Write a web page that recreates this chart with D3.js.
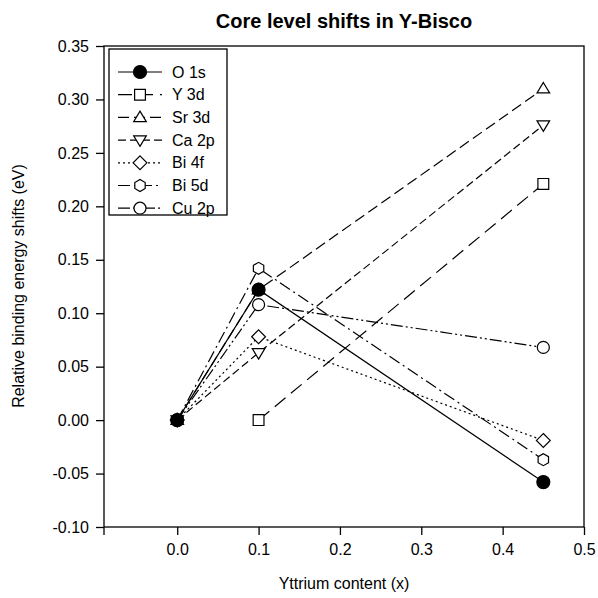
<!DOCTYPE html>
<html><head><meta charset="utf-8">
<script src="https://cdn.jsdelivr.net/npm/d3@7"></script>
<style>body{margin:0;background:#fff}svg{display:block}text{font-family:"Liberation Sans",Arial,sans-serif;fill:#000}</style>
</head><body><svg id="c" width="598" height="598"></svg>
<script>
const seriesNames = ["O 1s","Y 3d","Sr 3d","Ca 2p","Bi 4f","Bi 5d","Cu 2p"];
const xO1s = [0, 0.1, 0.45], yO1s = [0, 0.122, -0.058];
const xY3d = [0.1, 0.45], yY3d = [0, 0.221];
const xSr3d = [0, 0.1, 0.45], ySr3d = [0, 0.122, 0.31];
const xCa2p = [0, 0.1, 0.45], yCa2p = [0, 0.063, 0.276];
const xBi4f = [0, 0.1, 0.45], yBi4f = [0, 0.078, -0.019];
const xBi5d = [0, 0.1, 0.45], yBi5d = [0, 0.142, -0.037];
const xCu2p = [0, 0.1, 0.45], yCu2p = [0, 0.108, 0.068];
const xTicks = [0.0, 0.1, 0.2, 0.3, 0.4, 0.5];
const yTicks = [-0.10, -0.05, 0.00, 0.05, 0.10, 0.15, 0.20, 0.25, 0.30, 0.35];

const styles = [
  {dash:null, sym:"circle", fill:"#000", r:6.5},
  {dash:"14,7", sym:"square", fill:"#fff", r:6},
  {dash:"11,5", sym:"triangle", fill:"#fff", r:6},
  {dash:"8,4", sym:"triangleDown", fill:"#fff", r:6},
  {dash:"2,3", sym:"diamond", fill:"#fff", r:6},
  {dash:"12,4,2,4", sym:"hexagon", fill:"#fff", r:6},
  {dash:"12,3,2,3,2,3", sym:"circle", fill:"#fff", r:6}
];
const data = [[xO1s,yO1s],[xY3d,yY3d],[xSr3d,ySr3d],[xCa2p,yCa2p],[xBi4f,yBi4f],[xBi5d,yBi5d],[xCu2p,yCu2p]];

const svg = d3.select("#c");
const L=104, R=584, T=46, B=527;
const x = d3.scaleLinear().domain([-0.09, 0.5]).range([L, R]);
const y = d3.scaleLinear().domain([-0.10, 0.35]).range([B, T]);
const FS = "16px";

function symPath(sym, r){
  const p = d3.path();
  if(sym==="circle"){ p.arc(0,0,r,0,2*Math.PI); p.closePath(); }
  else if(sym==="square"){ p.rect(-r*0.9,-r*0.9,r*1.8,r*1.8); }
  else if(sym==="triangle"){ p.moveTo(0,-r*1.05); p.lineTo(r*1.05,r*0.7); p.lineTo(-r*1.05,r*0.7); p.closePath(); }
  else if(sym==="triangleDown"){ p.moveTo(0,r*1.05); p.lineTo(r*1.05,-r*0.7); p.lineTo(-r*1.05,-r*0.7); p.closePath(); }
  else if(sym==="diamond"){ p.moveTo(0,-r*1.15); p.lineTo(r*1.15,0); p.lineTo(0,r*1.15); p.lineTo(-r*1.15,0); p.closePath(); }
  else if(sym==="hexagon"){ for(let i=0;i<6;i++){ const a=Math.PI/6+i*Math.PI/3; const px=r*Math.cos(a), py=r*Math.sin(a); i?p.lineTo(px,py):p.moveTo(px,py);} p.closePath(); }
  return p.toString();
}

svg.append("text").attr("x",344).attr("y",28).attr("text-anchor","middle")
  .style("font-size","20px").style("font-weight","bold").text("Core level shifts in Y-Bisco");

svg.append("rect").attr("x",L).attr("y",T).attr("width",R-L).attr("height",B-T)
  .attr("fill","none").attr("stroke","#000").attr("stroke-width",1.3);

const fmt1 = d => d.toFixed(1), fmt2 = d => d.toFixed(2);
const xAxis = svg.append("g").attr("transform",`translate(0,${B})`)
  .call(d3.axisBottom(x).tickValues(xTicks).tickFormat(fmt1).tickSize(8).tickPadding(9));
const yAxis = svg.append("g").attr("transform",`translate(${L},0)`)
  .call(d3.axisLeft(y).tickValues(yTicks).tickFormat(fmt2).tickSize(8).tickPadding(7));
[xAxis,yAxis].forEach(g=>{
  g.attr("font-size",null).attr("font-family",null);
  g.select(".domain").remove();
  g.selectAll("line").attr("stroke","#000").attr("stroke-width",1.3);
  g.selectAll("text").style("font-size",FS).attr("fill","#000");
});
svg.append("line").attr("x1",L).attr("x2",L).attr("y1",B).attr("y2",B+8).attr("stroke","#000").attr("stroke-width",1.3);

svg.append("text").attr("x",344).attr("y",589).attr("text-anchor","middle").style("font-size",FS).text("Yttrium content (x)");
svg.append("text").attr("transform","translate(24,286) rotate(-90)").attr("text-anchor","middle").style("font-size",FS).text("Relative binding energy shifts (eV)");

const line = d3.line().x(d=>x(d[0])).y(d=>y(d[1]));
data.forEach((s,i)=>{
  const pts = s[0].map((v,j)=>[v,s[1][j]]);
  svg.append("path").attr("d",line(pts)).attr("fill","none").attr("stroke","#000")
    .attr("stroke-width",1.2).attr("stroke-dasharray",styles[i].dash);
});
data.map((s,i)=>i).reverse().forEach(i=>{
  const s = data[i];
  s[0].forEach((v,j)=>{
    svg.append("path").attr("d",symPath(styles[i].sym,styles[i].r)).attr("transform",`translate(${x(v)},${y(s[1][j])})`)
      .attr("fill",styles[i].fill).attr("stroke","#000").attr("stroke-width",1.2);
  });
});

const lg = svg.append("g");
lg.append("rect").attr("x",109).attr("y",49).attr("width",118).attr("height",166)
  .attr("fill","#fff").attr("stroke","#000").attr("stroke-width",1.3);
seriesNames.forEach((n,i)=>{
  const yy = 72 + i*22.7;
  lg.append("line").attr("x1",118).attr("x2",162).attr("y1",yy).attr("y2",yy)
    .attr("stroke","#000").attr("stroke-width",1.2).attr("stroke-dasharray",styles[i].dash);
  lg.append("path").attr("d",symPath(styles[i].sym,styles[i].r)).attr("transform",`translate(140,${yy})`)
    .attr("fill",styles[i].fill).attr("stroke","#000").attr("stroke-width",1.2);
  lg.append("text").attr("x",172).attr("y",yy+5.5).style("font-size",FS).text(n);
});
</script></body></html>
